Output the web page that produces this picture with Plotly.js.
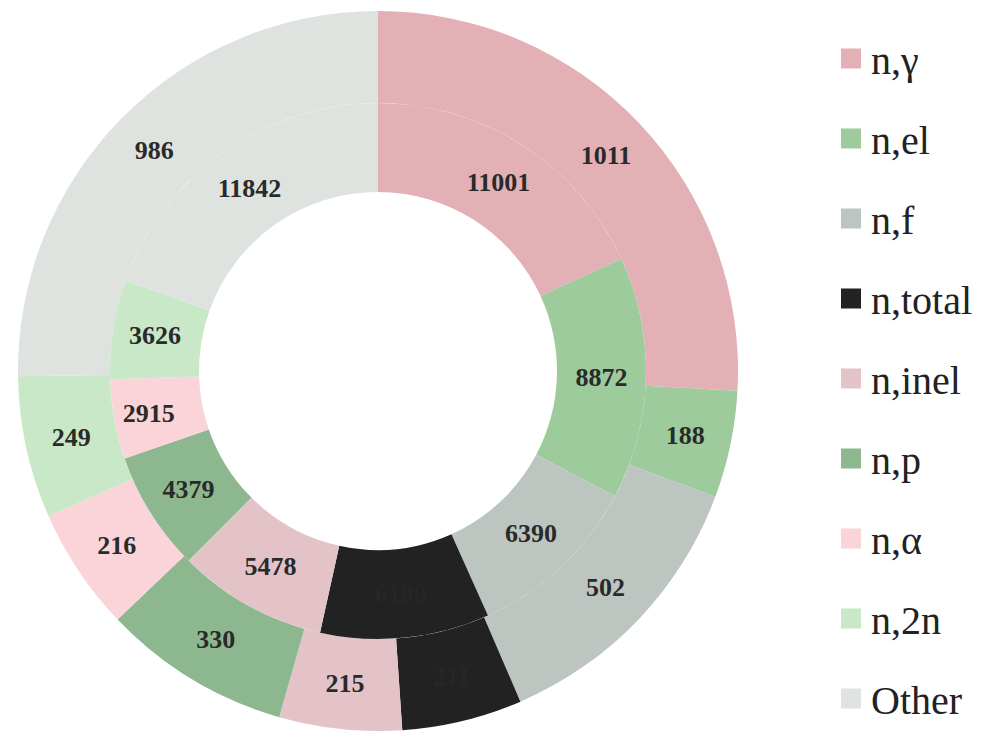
<!DOCTYPE html>
<html>
<head>
<meta charset="utf-8">
<script src="https://cdn.plot.ly/plotly-3.0.1.min.js"></script>
<style>html,body{margin:0;padding:0;background:#fff;}#chart{width:982px;height:731px;}</style>
</head>
<body>
<div id="chart"></div>
<script>
const categories = ["n,γ", "n,el", "n,f", "n,total", "n,inel", "n,p", "n,α", "n,2n", "Other"];
const innerValues = [11001, 8872, 6390, 6190, 5478, 4379, 2915, 3626, 11842];
const outerValues = [1011, 188, 502, 211, 215, 330, 216, 249, 986];
const colors = ["#e3b1b5", "#9dcb9c", "#bcc5c0", "#222222", "#e3c3c8", "#8db88f", "#fad4d8", "#c8e8c8", "#dfe3e0"];
const textColors = ["#2a2a2a", "#2a2a2a", "#2a2a2a", "#262626", "#2a2a2a", "#2a2a2a", "#2a2a2a", "#2a2a2a", "#2a2a2a"];

const W = 982, H = 731;
const cx = 378, cy = 371, rOuter = 360, rMid = 268, rHole = 179;
function dom(r) {
  return {
    x: [(cx - r) / W, (cx + r) / W],
    y: [(H - cy - r) / H, (H - cy + r) / H]
  };
}
const serif = "Liberation Serif, Times New Roman, serif";
const labelFont = {family: serif, size: 26, color: textColors, weight: "bold"};

const pieCommon = {
  type: "pie",
  labels: categories,
  sort: false,
  direction: "clockwise",
  rotation: 0,
  texttemplate: "%{value:.0f}",
  textposition: "inside",
  insidetextorientation: "horizontal",
  insidetextfont: labelFont,
  marker: {colors: colors, line: {width: 0}},
  showlegend: false,
  hoverinfo: "label+value"
};

const outer = Object.assign({}, pieCommon, {
  values: outerValues,
  hole: rMid / rOuter,
  domain: dom(rOuter)
});
const inner = Object.assign({}, pieCommon, {
  values: innerValues,
  hole: rHole / rMid,
  domain: dom(rMid)
});

const legendTraces = categories.map((c, i) => ({
  type: "scatter",
  mode: "markers",
  x: [null], y: [null],
  name: c,
  legendgroup: "g" + i,
  marker: {symbol: "square", size: 16, color: colors[i], line: {color: colors[i], width: 4}},
  hoverinfo: "skip"
}));

const layout = {
  width: W, height: H,
  margin: {l: 0, r: 0, t: 0, b: 0},
  font: {family: serif, color: "#222222"},
  paper_bgcolor: "#ffffff",
  plot_bgcolor: "#ffffff",
  xaxis: {visible: false},
  yaxis: {visible: false},
  showlegend: true,
  legend: {
    x: 831 / W, xanchor: "left",
    y: 1 - 34 / H, yanchor: "top",
    traceorder: "grouped",
    tracegroupgap: 25,
    font: {family: serif, size: 40, color: "#222222"},
    bgcolor: "rgba(0,0,0,0)"
  }
};

Plotly.newPlot("chart", [outer, inner].concat(legendTraces), layout, {displayModeBar: false, staticPlot: true});
</script>
</body>
</html>
